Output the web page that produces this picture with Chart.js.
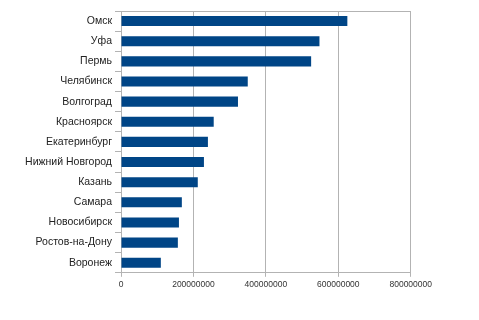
<!DOCTYPE html>
<html>
<head>
<meta charset="utf-8">
<script src="https://cdn.jsdelivr.net/npm/chart.js@4"></script>
<style>
  html, body { margin: 0; padding: 0; background: #fff; }
  #wrap { position: absolute; left: 0; top: 0; width: 435px; height: 320px; }
</style>
</head>
<body>
<div id="wrap"><canvas id="cityChart"></canvas></div>
<script>
// cities, top to bottom
const cities = ['Омск', 'Уфа', 'Пермь', 'Челябинск', 'Волгоград', 'Красноярск', 'Екатеринбург',
  'Нижний Новгород', 'Казань', 'Самара', 'Новосибирск', 'Ростов-на-Дону', 'Воронеж'];
const values = [625000000, 548000000, 525000000, 350000000, 323000000, 256000000, 240000000,
  229000000, 212000000, 168000000, 160000000, 157000000, 110000000];
const xTicks = [0, 200000000, 400000000, 600000000, 800000000];

const gridGray = '#b3b3b3';

new Chart(document.getElementById('cityChart'), {
  type: 'bar',
  data: {
    labels: cities,
    datasets: [{
      data: values,
      backgroundColor: '#004586',
      barPercentage: 0.5,
      categoryPercentage: 1.0
    }]
  },
  options: {
    indexAxis: 'y',
    responsive: true,
    maintainAspectRatio: false,
    animation: false,
    layout: { padding: { top: 11, bottom: 27, left: 0, right: 0 } },
    plugins: { legend: { display: false }, tooltip: { enabled: false } },
    scales: {
      x: {
        min: 0,
        max: 800000000,
        afterBuildTicks: axis => { axis.ticks = xTicks.map(v => ({ value: v })); },
        grid: { color: gridGray, tickColor: gridGray, tickLength: 4, lineWidth: 1 },
        border: { color: gridGray },
        ticks: {
          color: '#333',
          font: { family: 'Liberation Sans', size: 8.5 },
          padding: 3,
          maxRotation: 0,
          callback: v => String(v)
        }
      },
      y: {
        afterFit: axis => { axis.width = 121; },
        grid: {
          offset: true,
          color: ctx => ctx.index === 0 ? gridGray : 'rgba(0,0,0,0)',
          tickColor: gridGray,
          tickLength: 6
        },
        border: { color: gridGray },
        ticks: {
          color: '#222',
          font: { family: 'Liberation Sans', size: 10.5 },
          padding: 3
        }
      }
    }
  }
});
</script>
</body>
</html>
